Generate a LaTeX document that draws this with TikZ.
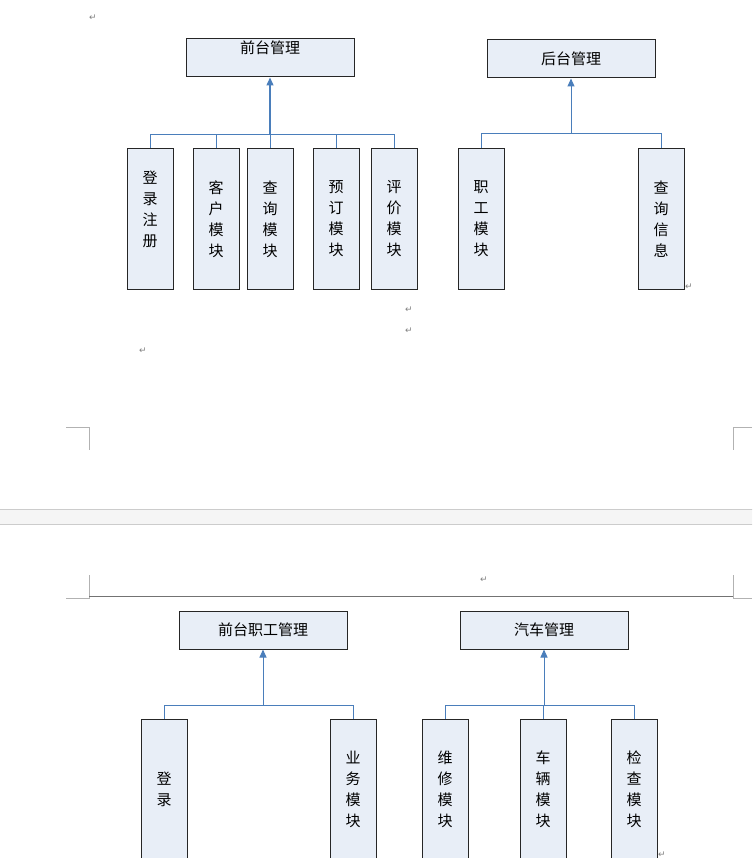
\documentclass[tikz,border=0pt]{standalone}
\usepackage{fontspec}
\newfontfamily\cjk{Noto Sans CJK SC}
\newfontfamily\markfont{DejaVu Sans}
\usetikzlibrary{arrows.meta}
\definecolor{boxfill}{HTML}{E8EEF7}
\definecolor{boxline}{HTML}{262626}
\definecolor{linkcolor}{HTML}{4A7EBB}

\begin{document}
\begin{tikzpicture}[x = 1pt, y = -1pt]
  % styles
  \tikzstyle{title} = [draw = boxline, fill = boxfill, line width = 1pt,
    minimum width = 168pt, minimum height = 38pt, inner sep = 0pt,
    align = center, font = \cjk\fontsize{15}{21}\selectfont]
  \tikzstyle{module} = [title, minimum width = 46pt, minimum height = 140pt]
  \tikzstyle{link} = [draw = linkcolor, line width = 1pt]
  \tikzstyle{uplink} = [link, -{Triangle[length = 8pt, width = 7pt]}]
  \tikzstyle{para mark} = [gray, inner sep = 0pt, font = \markfont\fontsize{9}{9}\selectfont]
  \tikzstyle{page edge} = [draw = gray!60, line width = 0.8pt]

  % page
  \useasboundingbox (0, 0) rectangle (752, 858);
  \clip (0, 0) rectangle (752, 858);

  % page gap and corner marks
  \begin{scope}
    \filldraw[fill = gray!8, draw = gray!40] (-1, 509) rectangle (753, 524);
    \draw[page edge] (66, 427) -- (89, 427) -- (89, 450);
    \draw[page edge] (752, 427) -- (733, 427) -- (733, 450);
    \draw[page edge] (89, 575) -- (89, 598) -- (66, 598);
    \draw[page edge] (733, 575) -- (733, 598) -- (752, 598);
    \draw[gray!90!black, line width = 0.8pt] (89, 596) -- (733, 596);
  \end{scope}

  % paragraph marks
  \node[para mark] (mark1) at (93, 18) {↵};
  \node[para mark] (mark2) at (409, 310) {↵};
  \node[para mark] (mark3) at (409, 331) {↵};
  \node[para mark] (mark4) at (143, 351) {↵};
  \node[para mark] (mark5) at (689, 287) {↵};
  \node[para mark] (mark6) at (484, 580) {↵};
  \node[para mark] (mark7) at (662, 855) {↵};

  % front desk management
  \node[title] (front) at (270, 58) {前台管理\\\mbox{}};
  \node[module] (login) at (150, 219) {登\\录\\注\\册\\\mbox{}};
  \node[module] (customer) at (216, 219) {客\\户\\模\\块};
  \node[module] (query) at (270, 219) {查\\询\\模\\块};
  \node[module] (booking) at (336, 219) {预\\订\\模\\块};
  \node[module] (review) at (394, 219) {评\\价\\模\\块};
  \coordinate (bus front) at (270, 135);
  \foreach \m in {login, customer, query, booking, review}
    \draw[link] (\m.north) |- (bus front);
  \draw[uplink, line width = 1.4pt] (bus front) -- (front.south);

  % back office management
  \node[title] (back) at (571, 59) {后台管理};
  \node[module] (staff) at (481, 219) {职\\工\\模\\块};
  \node[module] (info) at (661, 219) {查\\询\\信\\息};
  \coordinate (bus back) at (571, 134);
  \foreach \m in {staff, info}
    \draw[link] (\m.north) |- (bus back);
  \draw[uplink] (bus back) -- (back.south);

  % front desk staff management
  \node[title] (desk) at (263, 630) {前台职工管理};
  \node[module] (signin) at (164, 789) {登\\录};
  \node[module] (business) at (353, 789) {业\\务\\模\\块};
  \coordinate (bus desk) at (263, 705);
  \foreach \m in {signin, business}
    \draw[link] (\m.north) |- (bus desk);
  \draw[uplink] (bus desk) -- (desk.south);

  % car management
  \node[title] (car) at (544, 630) {汽车管理};
  \node[module] (repair) at (445, 789) {维\\修\\模\\块};
  \node[module] (vehicle) at (543, 789) {车\\辆\\模\\块};
  \node[module] (check) at (634, 789) {检\\查\\模\\块};
  \coordinate (bus car) at (544, 705);
  \foreach \m in {repair, vehicle, check}
    \draw[link] (\m.north) |- (bus car);
  \draw[uplink] (bus car) -- (car.south);

\end{tikzpicture}
\end{document}
